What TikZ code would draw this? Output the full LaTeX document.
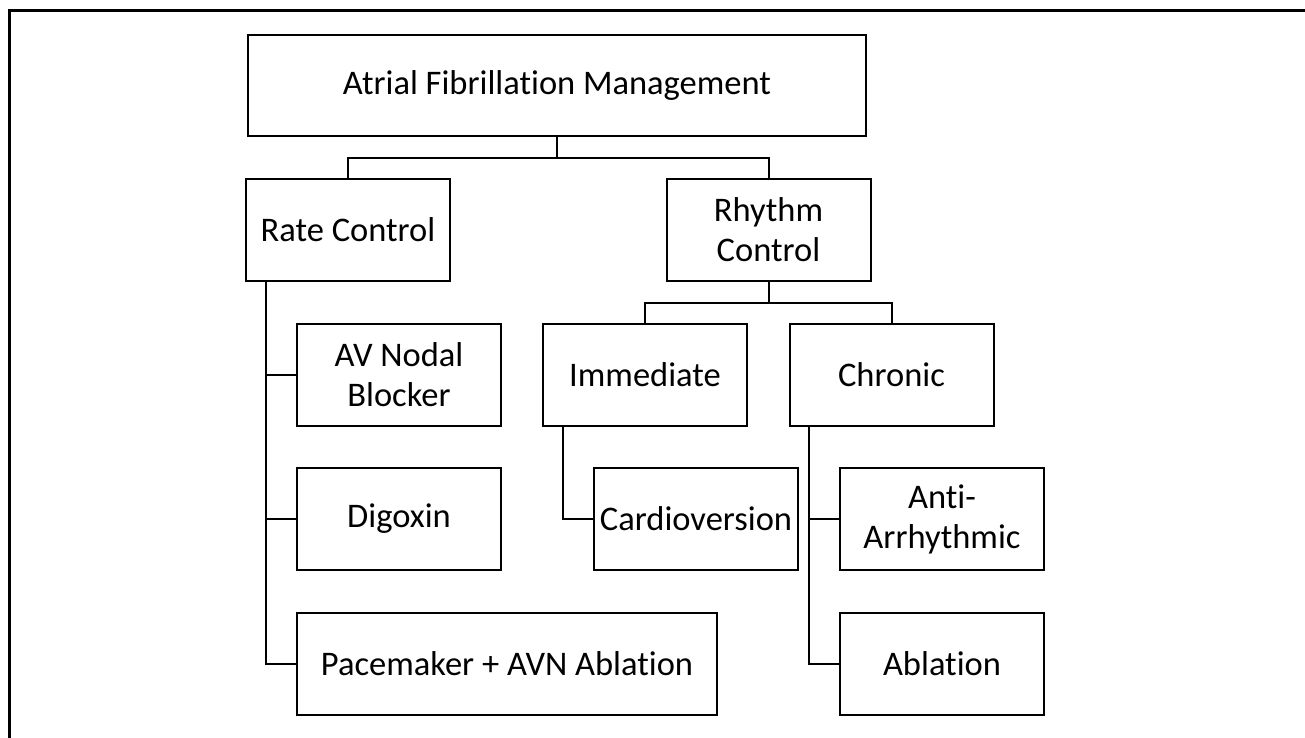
\documentclass[tikz,border=0pt]{standalone}
\usepackage{fontspec}
\setmainfont[Ligatures=NoCommon]{Carlito}
\usepackage{tikz}

\begin{document}
\begin{tikzpicture}[x=1pt, y=-1pt,
    box/.style={rectangle, draw, line width=2pt, inner sep=0pt, align=center,
                minimum width=204pt, minimum height=102pt,
                font=\fontsize{34.5}{40}\selectfont},
    link/.style={line width=2pt}]

          \useasboundingbox (0,0) rectangle (1305,738);
          \draw[line width=3pt] (9,740) -- (9,11) -- (1305,11);

          \node[box, minimum width=618pt, minimum height=101pt] (af) at (557,85.5) {Atrial Fibrillation Management};
          \node[box] (rate) at (348,230) {Rate Control};
          \node[box] (rhythm) at (768.5,230) {Rhythm\\Control};

          \node[box] (avn) at (399,374.5) {AV Nodal\\Blocker};
          \node[box] (dig) at (399,519) {Digoxin};
          \node[box, minimum width=420pt] (pace) at (507,663.5) {Pacemaker + AVN Ablation};

          \node[box] (imm) at (645,374.5) {Immediate};
          \node[box] (chron) at (891.5,374.5) {Chronic};
          \node[box] (cardio) at (696,519) {Cardioversion};
          \node[box] (anti) at (942,519) {Anti-\\Arrhythmic};
          \node[box] (abl) at (942,663.5) {Ablation};

          \draw[link] (af.south) -- ++(0,21) -| (rate.north);
          \draw[link] (af.south) -- ++(0,21) -| (rhythm.north);

          \draw[link] (rhythm.south) -- ++(0,21) -| (imm.north);
          \draw[link] (rhythm.south) -- ++(0,21) -| (chron.north);

          \draw[link] ([xshift=21pt]rate.south west) |- (avn.west);
          \draw[link] ([xshift=21pt]rate.south west) |- (dig.west);
          \draw[link] ([xshift=21pt]rate.south west) |- (pace.west);

          \draw[link] ([xshift=21pt]imm.south west) |- (cardio.west);

          \draw[link] ([xshift=20pt]chron.south west) |- (anti.west);
          \draw[link] ([xshift=20pt]chron.south west) |- (abl.west);
        \end{tikzpicture}
\end{document}
